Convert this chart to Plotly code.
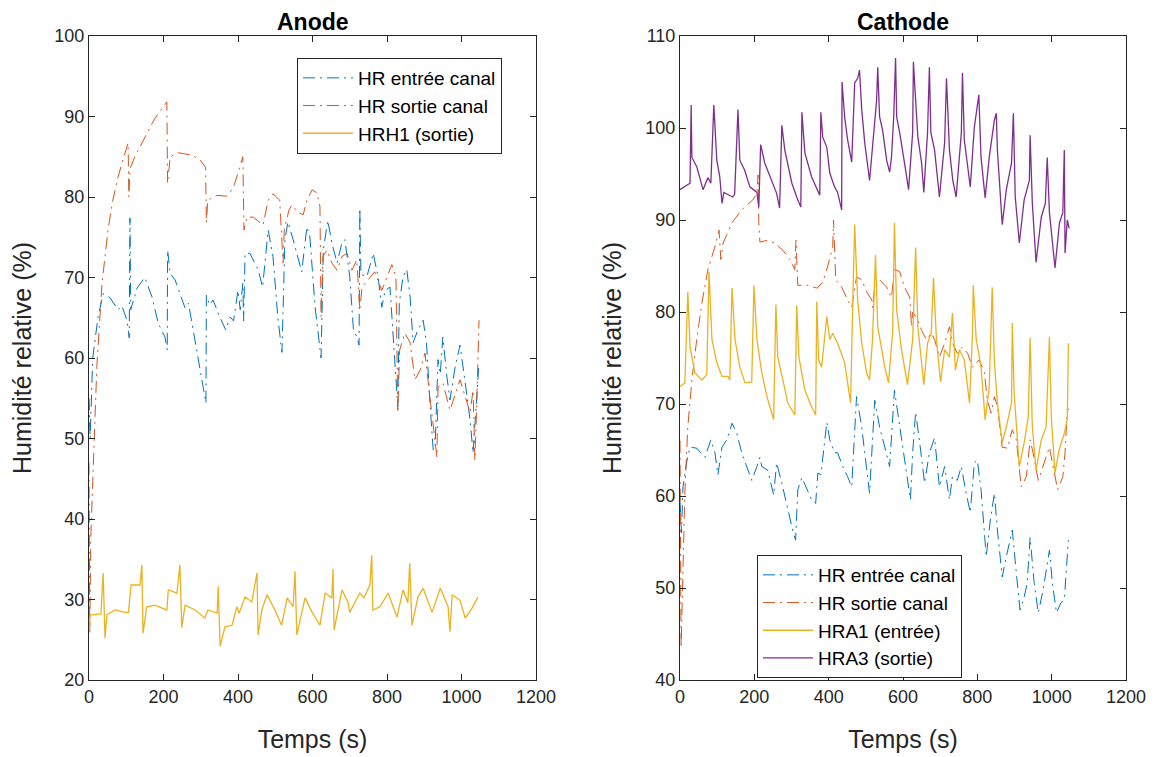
import plotly.graph_objects as go

# ---------------- Anode ----------------
an_in_t = [0, 3, 10, 24, 38, 56, 78, 88, 102, 108, 110, 112, 129, 150, 169, 186, 204, 210, 211, 218, 231, 249, 258, 267, 285, 302, 314, 315, 324, 333, 351, 367, 379, 388, 400, 406, 413, 415, 419, 432, 454, 466, 481, 494, 507, 518, 526, 534, 548, 571, 585, 593, 607, 623, 629, 641, 652, 666, 679, 687, 700, 710, 719, 725, 727, 730, 746, 763, 776, 786, 795, 808, 821, 829, 833, 843, 853, 862, 870, 883, 897, 906, 916, 924, 929, 937, 943, 950, 961, 969, 983, 996, 1010, 1023, 1031, 1042, 1047]
an_in_v = [55, 50, 60, 65, 68, 67.5, 66, 66.5, 64.7, 62.5, 77.4, 66, 68.7, 70, 67.6, 64.3, 62.6, 61, 73.4, 70.5, 69.7, 67.2, 66.2, 66.8, 61.9, 57.6, 54.4, 67.8, 66.6, 67.2, 65.1, 63.5, 65.1, 64.6, 68.4, 66, 69.3, 64.6, 73, 73, 71, 68.8, 75.9, 72.6, 65, 60.7, 74.7, 76.9, 74.7, 70.7, 76.3, 75, 66.3, 60, 73.4, 77.1, 74.3, 71.8, 74.3, 74.7, 70.1, 63.5, 62.6, 61.6, 78.6, 70.4, 70.1, 73, 70.1, 66.3, 68.4, 68.8, 60.1, 53.9, 66.8, 70.1, 71, 67.6, 61.9, 63.5, 64.7, 61.9, 53.9, 48.6, 48.6, 59.8, 58, 62.6, 57.6, 54.8, 58.9, 61.6, 56.9, 52.3, 48.2, 56.9, 59.4]

an_out_t = [0, 2, 5, 11, 21, 35, 51, 64, 78, 91, 105, 107, 110, 123, 150, 177, 209, 211, 218, 239, 276, 298, 313, 315, 319, 343, 370, 387, 400, 413, 416, 424, 441, 467, 481, 494, 512, 521, 524, 537, 545, 561, 575, 585, 599, 612, 620, 623, 628, 639, 652, 666, 679, 693, 706, 719, 727, 733, 749, 767, 786, 800, 813, 824, 829, 834, 848, 862, 875, 889, 902, 916, 924, 934, 937, 950, 969, 983, 996, 1010, 1023, 1031, 1036, 1042, 1047]
an_out_v = [47, 26, 38, 46.5, 58.9, 69.3, 75.9, 79.6, 82.5, 84.6, 86.7, 80, 83.5, 85, 87.5, 89.8, 91.8, 81.7, 85, 85.5, 85.2, 84.6, 83.7, 76.8, 79.6, 80.2, 80.1, 81.1, 83, 85, 75.9, 77.5, 77.5, 76.5, 79.6, 80.4, 79.6, 71.8, 75.9, 78.4, 79, 78.1, 77.8, 79.6, 80.9, 80.5, 78.8, 65.1, 72.6, 73.4, 71.8, 70.9, 72.6, 73, 70.9, 72.2, 66, 68.8, 69.7, 70.7, 68.4, 70.1, 71.6, 70.1, 53.2, 61, 63.1, 61.9, 57.3, 58.5, 60.6, 54.8, 51.9, 47.7, 56.4, 56.9, 53.5, 55.6, 57.3, 55.2, 53.2, 56, 47.3, 56, 64.7]

hrh1_t = [0, 3, 8, 32, 38, 43, 48, 70, 97, 106, 113, 137, 142, 145, 155, 177, 209, 213, 236, 244, 249, 258, 285, 311, 319, 344, 347, 352, 365, 384, 397, 403, 419, 437, 451, 454, 464, 478, 499, 517, 532, 548, 553, 558, 580, 599, 620, 634, 652, 655, 658, 679, 695, 700, 727, 738, 754, 759, 762, 781, 803, 827, 843, 856, 861, 867, 883, 897, 921, 943, 964, 969, 975, 996, 1010, 1028, 1044]
hrh1_v = [25.8, 28.1, 28.1, 28.2, 33.3, 25.2, 28.1, 28.7, 28.4, 28.4, 31.8, 31.8, 34.3, 25.8, 29.1, 29.3, 28.7, 31.2, 30.8, 34.3, 26.5, 29.3, 28.7, 27.7, 28.7, 28.3, 31.6, 24.2, 26.6, 26.8, 29.1, 28.3, 30.3, 29.7, 33.3, 25.6, 28.7, 30.6, 28.7, 26.8, 30.2, 29.1, 33.5, 25.6, 30.2, 28.4, 26.8, 30.8, 30.2, 33.8, 26.2, 31.2, 29.7, 28.4, 30.8, 30.2, 31.8, 35.5, 28.7, 29.1, 30.8, 27.8, 31.2, 29.6, 34.5, 26.8, 30.3, 31.4, 28.4, 31.4, 29.1, 26, 30.6, 29.9, 27.7, 28.9, 30.3]

# ---------------- Cathode ----------------
ca_in_t = [0, 4, 8, 19, 27, 45, 67, 75, 83, 94, 102, 113, 126, 140, 153, 166, 180, 193, 207, 215, 220, 236, 252, 260, 274, 290, 303, 311, 317, 328, 341, 354, 365, 371, 379, 395, 403, 416, 424, 438, 451, 462, 475, 489, 497, 510, 524, 537, 551, 564, 577, 586, 599, 609, 620, 626, 634, 644, 658, 671, 685, 698, 712, 725, 733, 746, 757, 768, 781, 792, 800, 810, 819, 824, 835, 846, 854, 867, 878, 894, 905, 915, 926, 934, 942, 953, 964, 977, 994, 1002, 1013, 1025, 1034, 1045]
ca_in_v = [59.5, 56, 61, 63.9, 65.3, 65.2, 64.2, 65.2, 66.1, 64.7, 62.3, 65.3, 66.1, 67.9, 66.8, 64.7, 63.2, 61.7, 63.2, 64.2, 63.2, 62.8, 60.1, 63.6, 61.4, 58.5, 56.3, 55.2, 60.7, 62, 60.7, 59.6, 59.2, 62.5, 62.3, 68, 66.1, 64.7, 64.7, 63.2, 62.1, 61, 70.8, 67.5, 64.7, 60.3, 70.4, 67.5, 65.3, 63.2, 71.5, 69, 65, 62.5, 59.6, 64.7, 69.1, 66.1, 61.4, 64.7, 66.3, 61, 63.2, 59.6, 62.1, 61.7, 63.2, 60.7, 58.2, 63.6, 63.9, 60.7, 56.3, 53.4, 57.4, 60.3, 56.3, 51.2, 53.4, 56.3, 51.6, 47.6, 49, 50.5, 55.5, 50.5, 47.3, 49.8, 54.1, 50.5, 47.3, 48.4, 48.7, 55.2]

ca_out_t = [0, 3, 13, 21, 32, 45, 59, 75, 94, 105, 110, 116, 140, 166, 196, 207, 210, 212, 215, 236, 255, 277, 296, 309, 312, 317, 344, 368, 384, 397, 411, 413, 419, 435, 451, 462, 475, 489, 502, 516, 518, 524, 537, 556, 569, 577, 591, 604, 618, 623, 626, 640, 650, 663, 676, 685, 698, 712, 725, 734, 746, 760, 774, 787, 805, 819, 827, 837, 846, 854, 867, 881, 894, 905, 918, 932, 942, 950, 964, 980, 994, 1002, 1016, 1030, 1036, 1042, 1047]
ca_out_v = [66, 43.5, 60.3, 67.5, 72.6, 77, 81, 84.6, 87.1, 88.9, 85.7, 87.5, 89.7, 91.1, 92.2, 92.9, 94.9, 89.7, 87.6, 87.8, 87.5, 86.7, 85.7, 84.6, 87.8, 82.9, 82.9, 82.6, 83.2, 84.9, 87.1, 90, 83.5, 82.7, 81.3, 80.5, 83.8, 83.5, 82.2, 81.3, 80.5, 82.7, 83.5, 82.7, 81.6, 84.6, 84.4, 82.7, 81.6, 78.4, 80, 79.1, 78, 77, 77.7, 77, 75.1, 76.6, 78.4, 76.6, 75.5, 76.2, 75.5, 74, 74.8, 73.4, 70.4, 69, 70.8, 69.7, 65.3, 65.2, 67.2, 66.1, 61, 62.1, 66.1, 64.7, 61.7, 63.6, 65.3, 63.6, 60.7, 62.1, 64.7, 69.3, 69.5]

hra1_t = [0, 13, 21, 27, 40, 59, 72, 78, 86, 99, 113, 129, 134, 140, 148, 161, 175, 193, 199, 207, 220, 234, 247, 252, 258, 263, 277, 290, 309, 314, 320, 336, 354, 365, 368, 373, 381, 395, 403, 411, 414, 424, 443, 459, 465, 470, 478, 489, 502, 510, 518, 526, 532, 545, 551, 561, 572, 575, 577, 583, 596, 612, 626, 634, 640, 656, 666, 676, 682, 690, 701, 712, 725, 733, 741, 752, 765, 779, 787, 789, 797, 810, 821, 832, 840, 846, 854, 867, 878, 892, 894, 899, 913, 926, 937, 942, 948, 958, 972, 985, 994, 999, 1009, 1020, 1034, 1042, 1045]
hra1_v = [71.9, 72.3, 82.2, 76.2, 73.4, 72.6, 73.2, 84.4, 77, 74.5, 73, 73, 72.6, 82.6, 77, 74, 72.3, 72.4, 82.9, 77, 73.4, 70.8, 69, 68.3, 80.8, 75.1, 72.6, 70.1, 68.8, 80.7, 75.1, 71.5, 69.7, 68.8, 81.1, 74.8, 74, 79.5, 77, 77.7, 77.4, 76.6, 74.5, 70.1, 81.3, 89.5, 81.3, 76.6, 73.4, 72.6, 77, 86.2, 78.4, 75.1, 74, 72.3, 77.7, 84.9, 89.7, 80.2, 75.9, 72.1, 77, 87, 78.4, 72.1, 76.6, 77.7, 83.7, 77, 72.4, 75.9, 75.1, 79.9, 73.7, 75.9, 74.8, 70.1, 77.7, 82.9, 77, 74, 68.3, 71.8, 82.7, 74.5, 70.1, 65.8, 67.5, 70.1, 78.8, 71.2, 63.2, 65.8, 68.6, 77.2, 67.5, 62.8, 66.1, 67.5, 77.3, 68.6, 62.5, 65, 66.8, 68.3, 76.6]

hra3_t = [0, 13, 27, 30, 32, 45, 62, 75, 83, 91, 99, 107, 113, 118, 142, 147, 156, 161, 174, 188, 207, 212, 217, 228, 247, 260, 268, 274, 282, 301, 314, 325, 328, 336, 354, 362, 376, 379, 384, 395, 403, 416, 424, 435, 436, 443, 451, 462, 470, 478, 483, 489, 497, 510, 524, 529, 532, 537, 545, 556, 564, 569, 575, 577, 580, 583, 591, 604, 615, 626, 628, 634, 640, 650, 656, 666, 671, 675, 685, 698, 712, 717, 725, 734, 743, 757, 760, 765, 774, 781, 792, 804, 810, 821, 832, 846, 851, 854, 867, 878, 892, 897, 902, 913, 926, 940, 942, 948, 958, 972, 983, 988, 994, 1009, 1021, 1030, 1034, 1036, 1042, 1047]
hra3_v = [93.3, 93.6, 94, 102.5, 96.8, 95.8, 93.3, 94.6, 94, 102.5, 96.5, 94.7, 91.8, 93, 92.5, 92.8, 102, 96.5, 95.4, 93.6, 93, 91.4, 98.2, 96.2, 94.3, 92.9, 91.3, 100.3, 97.6, 94, 92.5, 91.4, 101.7, 97.3, 94.7, 94, 92.7, 101.7, 99, 97.9, 95.1, 93.6, 93, 91.1, 105, 101.2, 98.7, 96.3, 104.9, 105.4, 106.3, 102, 98.4, 94.3, 100.5, 103, 106.6, 101.2, 99.8, 96.5, 95.2, 96.8, 101.2, 103.8, 107.6, 101.2, 99.5, 96.2, 93.3, 99.5, 107.2, 103, 99, 96.2, 93, 99.5, 106.6, 99.5, 97.6, 92.5, 98.4, 105.4, 97.6, 94.3, 92.5, 99.5, 106, 98.7, 95.8, 93.6, 100.1, 103.6, 96.8, 92.4, 96.8, 100.9, 101.6, 97.6, 89.5, 93.3, 96.2, 101.6, 92.5, 87.5, 92.2, 94.3, 99.2, 91.8, 85.4, 90.3, 91.8, 96.8, 90.8, 84.8, 89.7, 90.8, 97.6, 86.4, 90, 89.1]

names_left = ["HR entrée canal", "HR sortie canal", "HRH1 (sortie)"]
names_right = ["HR entrée canal", "HR sortie canal", "HRA1 (entrée)", "HRA3 (sortie)"]
x_ticks = [0, 200, 400, 600, 800, 1000, 1200]

BLUE, RED, YEL, PUR = "#0072BD", "#D95319", "#EDB120", "#7E2F8E"
DD = "12px,5px,2px,5px"
FONT = "Liberation Sans, Arial, Helvetica, sans-serif"
AX = "#262626"

fig = go.Figure()
fig.add_trace(go.Scatter(x=an_in_t, y=an_in_v, mode="lines", name=names_left[0],
                         line=dict(color=BLUE, width=1, dash=DD), xaxis="x", yaxis="y", legend="legend"))
fig.add_trace(go.Scatter(x=an_out_t, y=an_out_v, mode="lines", name=names_left[1],
                         line=dict(color=RED, width=1, dash=DD), xaxis="x", yaxis="y", legend="legend"))
fig.add_trace(go.Scatter(x=hrh1_t, y=hrh1_v, mode="lines", name=names_left[2],
                         line=dict(color=YEL, width=1.3), xaxis="x", yaxis="y", legend="legend"))

fig.add_trace(go.Scatter(x=ca_in_t, y=ca_in_v, mode="lines", name=names_right[0],
                         line=dict(color=BLUE, width=1, dash=DD), xaxis="x2", yaxis="y2", legend="legend2"))
fig.add_trace(go.Scatter(x=ca_out_t, y=ca_out_v, mode="lines", name=names_right[1],
                         line=dict(color=RED, width=1, dash=DD), xaxis="x2", yaxis="y2", legend="legend2"))
fig.add_trace(go.Scatter(x=hra1_t, y=hra1_v, mode="lines", name=names_right[2],
                         line=dict(color=YEL, width=1.3), xaxis="x2", yaxis="y2", legend="legend2"))
fig.add_trace(go.Scatter(x=hra3_t, y=hra3_v, mode="lines", name=names_right[3],
                         line=dict(color=PUR, width=1.3), xaxis="x2", yaxis="y2", legend="legend2"))

# page body has an 8px margin: figure occupies (8,8)-(1158,757) of the window
OFF = 8
W, H = 1158 - OFF, 757 - OFF
def fx(px): return (px - OFF) / W
def fy(py): return 1 - (py - OFF) / H

axis_common = dict(showgrid=False, zeroline=False, showline=True, linecolor=AX, linewidth=1,
                   mirror="ticks", ticks="inside", ticklen=6, tickcolor=AX, automargin=False,
                   tickfont=dict(family=FONT, size=18, color=AX))
xt = dict(tickmode="array", tickvals=x_ticks, ticktext=[str(v) for v in x_ticks])
ttl = dict(family=FONT, size=25, color=AX)

fig.update_layout(
    width=W, height=H, margin=dict(l=0, r=0, t=0, b=0, autoexpand=False),
    paper_bgcolor="white", plot_bgcolor="white",
    font=dict(family=FONT, color=AX),
    xaxis=dict(domain=[fx(89), fx(536)], range=[0, 1200], anchor="y",
               title=dict(text="Temps (s)", font=ttl, standoff=24), **xt, **axis_common),
    yaxis=dict(domain=[fy(680), fy(36)], range=[20, 100], anchor="x", dtick=10,
               title=dict(text="Humidité relative (%)", font=ttl, standoff=16), **axis_common),
    xaxis2=dict(domain=[fx(680), fx(1126)], range=[0, 1200], anchor="y2",
                title=dict(text="Temps (s)", font=ttl, standoff=24), **xt, **axis_common),
    yaxis2=dict(domain=[fy(680), fy(36)], range=[40, 110], anchor="x2", dtick=10,
                title=dict(text="Humidité relative (%)", font=ttl, standoff=16), **axis_common),
    legend=dict(x=fx(297), y=fy(58), xanchor="left", yanchor="top", bgcolor="white",
                bordercolor=AX, borderwidth=1, font=dict(family=FONT, size=19, color="black"),
                itemwidth=50, tracegroupgap=0),
    legend2=dict(x=fx(757), y=fy(555), xanchor="left", yanchor="top", bgcolor="white",
                 bordercolor=AX, borderwidth=1, font=dict(family=FONT, size=19, color="black"),
                 itemwidth=50, tracegroupgap=0),
    showlegend=True,
    annotations=[
        dict(text="<b>Anode</b>", x=fx(312.5), y=fy(8), xref="paper", yref="paper",
             showarrow=False, font=dict(family=FONT, size=23, color="black"),
             xanchor="center", yanchor="top", borderpad=0),
        dict(text="<b>Cathode</b>", x=fx(903), y=fy(8), xref="paper", yref="paper",
             showarrow=False, font=dict(family=FONT, size=23, color="black"),
             xanchor="center", yanchor="top", borderpad=0),
    ],
)

fig.write_html("out.html")
